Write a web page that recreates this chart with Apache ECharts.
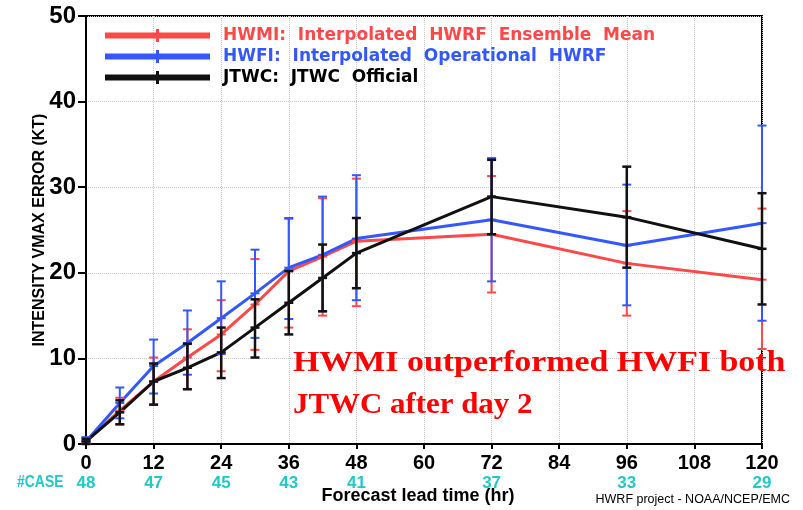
<!DOCTYPE html>
<html>
<head>
<meta charset="utf-8">
<script src="https://cdn.jsdelivr.net/npm/echarts@6/dist/echarts.min.js"></script>
<style>html,body{margin:0;padding:0;background:#fff;}#chart{width:803px;height:510px;}</style>
</head>
<body>
<div id="chart"></div>
<script>
// Forecast lead times (hr)
const hours = [0, 6, 12, 18, 24, 30, 36, 42, 48, 72, 96, 120];

// HWMI: Interpolated HWRF Ensemble Mean
const hwmiMean = [0.3, 3.9, 7.3, 10.1, 12.8, 16.3, 20.2, 21.9, 23.7, 24.5, 21.1, 19.2];
const hwmiLow  = [0.0, 2.3, 4.6, 6.4, 8.5, 11.0, 13.6, 15.0, 16.1, 17.7, 15.0, 11.1];
const hwmiHigh = [0.7, 5.4, 10.1, 13.4, 16.8, 21.6, 26.3, 28.7, 31.0, 31.3, 27.2, 27.5];

// HWFI: Interpolated Operational HWRF
const hwfiMean = [0.3, 4.8, 9.1, 11.8, 14.7, 17.6, 20.6, 22.1, 24.0, 26.2, 23.2, 25.8];
const hwfiLow  = [0.0, 3.0, 5.9, 8.1, 10.5, 12.4, 14.6, 15.5, 16.8, 19.0, 16.2, 14.4];
const hwfiHigh = [0.8, 6.6, 12.2, 15.6, 19.0, 22.7, 26.4, 28.9, 31.4, 33.4, 30.3, 37.2];

// JTWC: JTWC Official
const jtwcMean = [0.3, 3.7, 7.3, 8.9, 10.7, 13.6, 16.5, 19.4, 22.3, 28.9, 26.5, 22.8];
const jtwcLow  = [0.0, 2.3, 4.6, 6.4, 7.7, 10.1, 12.8, 15.5, 18.2, 24.5, 20.6, 16.3];
const jtwcHigh = [0.6, 5.1, 9.4, 11.7, 13.6, 16.9, 20.2, 23.3, 26.4, 33.2, 32.4, 29.3];

// Number of cases
const caseHours = [0, 12, 24, 36, 48, 72, 96, 120];
const caseCounts = [48, 47, 45, 43, 41, 37, 33, 29];

// Axis ticks
const xTicks = [0, 12, 24, 36, 48, 60, 72, 84, 96, 108, 120];
const yTicks = [0, 10, 20, 30, 40, 50];

const names = {
  hwmi: 'HWMI: Interpolated HWRF Ensemble Mean',
  hwfi: 'HWFI: Interpolated Operational HWRF',
  jtwc: 'JTWC: JTWC Official'
};
const colors = { hwmi: '#ff4848', hwfi: '#3358ff', jtwc: '#111111' };

function lineSeries(key, mean) {
  return {
    name: names[key], type: 'line', color: colors[key],
    data: hours.map((h, i) => [h, mean[i]]),
    symbol: 'none', lineStyle: { width: 3, color: colors[key] },
    z: 3
  };
}
function errSeries(key, mean, low, high, lw) {
  return {
    name: names[key] + ' err', type: 'custom', color: colors[key],
    data: hours.map((h, i) => [h, low[i], high[i], mean[i]]),
    encode: { x: 0, y: [1, 2] },
    z: 4,
    renderItem: function (params, api) {
      const x = api.value(0);
      const pL = api.coord([x, api.value(1)]);
      const pH = api.coord([x, api.value(2)]);
      const pM = api.coord([x, api.value(3)]);
      const hw = 4.5;
      const st = { stroke: colors[key], lineWidth: lw };
      return {
        type: 'group',
        children: [
          { type: 'line', shape: { x1: pL[0], y1: pL[1], x2: pH[0], y2: pH[1] }, style: st },
          { type: 'line', shape: { x1: pL[0] - hw, y1: pL[1], x2: pL[0] + hw, y2: pL[1] }, style: st },
          { type: 'line', shape: { x1: pH[0] - hw, y1: pH[1], x2: pH[0] + hw, y2: pH[1] }, style: st },
          { type: 'line', shape: { x1: pM[0] - hw, y1: pM[1], x2: pM[0] + hw, y2: pM[1] }, style: st }
        ]
      };
    }
  };
}

const chart = echarts.init(document.getElementById('chart'), null, { renderer: 'canvas' });
const axisFont = 'Liberation Sans, Arial, sans-serif';

chart.setOption({
  animation: false,
  backgroundColor: '#ffffff',
  grid: { left: 86, right: 41, top: 16, bottom: 66, show: true, borderColor: '#000', borderWidth: 2 },
  legend: {
    orient: 'vertical', left: 100, top: 22, itemGap: 4,
    itemWidth: 105, itemHeight: 13,
    icon: 'path://M0,3.5 H105 V9.5 H0 Z M51,0 H54 V13 H51 Z',
    itemStyle: { borderWidth: 0 },
    formatter: n => n.replace(/ /g, '  '),
    textStyle: { fontFamily: 'DejaVu Sans, sans-serif', fontWeight: 'bold', fontSize: 17, padding: [0, 0, 0, 8] },
    data: [
      { name: names.hwmi, textStyle: { color: colors.hwmi } },
      { name: names.hwfi, textStyle: { color: colors.hwfi } },
      { name: names.jtwc, textStyle: { color: '#000' } }
    ]
  },
  xAxis: [{
    type: 'value', min: 0, max: 120, interval: 12,
    axisLine: { show: true, lineStyle: { color: '#000', width: 2 } },
    axisTick: { show: true, length: 5, lineStyle: { color: '#000', width: 2 } },
    axisLabel: { color: '#000', fontFamily: axisFont, fontWeight: 'bold', fontSize: 20, margin: 9,
      formatter: v => xTicks.indexOf(v) >= 0 ? String(v) : '' },
    splitLine: { show: true, lineStyle: { color: '#c8c8c8', type: 'dotted', width: 1 } },
    name: 'Forecast lead time (hr)', nameLocation: 'middle', nameGap: 43, nameMoveOverlap: false,
    nameTextStyle: { color: '#000', fontFamily: axisFont, fontWeight: 'bold', fontSize: 18, padding: [0, 12, 0, 0] }
  }, {
    type: 'value', min: 0, max: 120, interval: 12, position: 'bottom',
    axisLine: { show: false }, axisTick: { show: false }, splitLine: { show: false },
    axisLabel: { color: '#22c8c8', fontFamily: axisFont, fontWeight: 'bold', fontSize: 17, margin: 31,
      formatter: v => { const k = caseHours.indexOf(v); return k >= 0 ? String(caseCounts[k]) : ''; } }
  }],
  yAxis: {
    type: 'value', min: 0, max: 50, interval: 10,
    axisLine: { show: true, lineStyle: { color: '#000', width: 2 } },
    axisTick: { show: true, length: 8, lineStyle: { color: '#000', width: 2 } },
    axisLabel: { color: '#000', fontFamily: axisFont, fontWeight: 'bold', fontSize: 24, margin: 10,
      formatter: v => yTicks.indexOf(v) >= 0 ? String(v) : '' },
    splitLine: { show: true, lineStyle: { color: '#c8c8c8', type: 'dotted', width: 1 } },
    name: 'INTENSITY VMAX ERROR (KT)', nameLocation: 'middle', nameGap: 38, nameRotate: 90, nameMoveOverlap: false,
    nameTextStyle: { color: '#000', fontFamily: axisFont, fontWeight: 'bold', fontSize: 16 }
  },
  graphic: [
    { type: 'text', x: 17, y: 482, scaleX: 0.82,
      style: { text: '#CASE', fill: '#22c8c8', font: 'bold 17px ' + axisFont, verticalAlign: 'middle' } },
    { type: 'text', x: 790, y: 500,
      style: { text: 'HWRF project - NOAA/NCEP/EMC', fill: '#000', font: '12.5px ' + axisFont, align: 'right', verticalAlign: 'middle' } },
    { type: 'text', x: 293, y: 363, scaleX: 1.13, z: 100,
      style: { text: 'HWMI outperformed HWFI both', fill: '#ff0000', font: 'bold 30px Liberation Serif, serif', verticalAlign: 'middle' } },
    { type: 'text', x: 293, y: 405, scaleX: 1.03, z: 100,
      style: { text: 'JTWC after day 2', fill: '#ff0000', font: 'bold 30px Liberation Serif, serif', verticalAlign: 'middle' } }
  ],
  series: [
    lineSeries('hwmi', hwmiMean),
    errSeries('hwmi', hwmiMean, hwmiLow, hwmiHigh, 2),
    lineSeries('hwfi', hwfiMean),
    errSeries('hwfi', hwfiMean, hwfiLow, hwfiHigh, 2),
    lineSeries('jtwc', jtwcMean),
    errSeries('jtwc', jtwcMean, jtwcLow, jtwcHigh, 2.5)
  ]
});
</script>
</body>
</html>
